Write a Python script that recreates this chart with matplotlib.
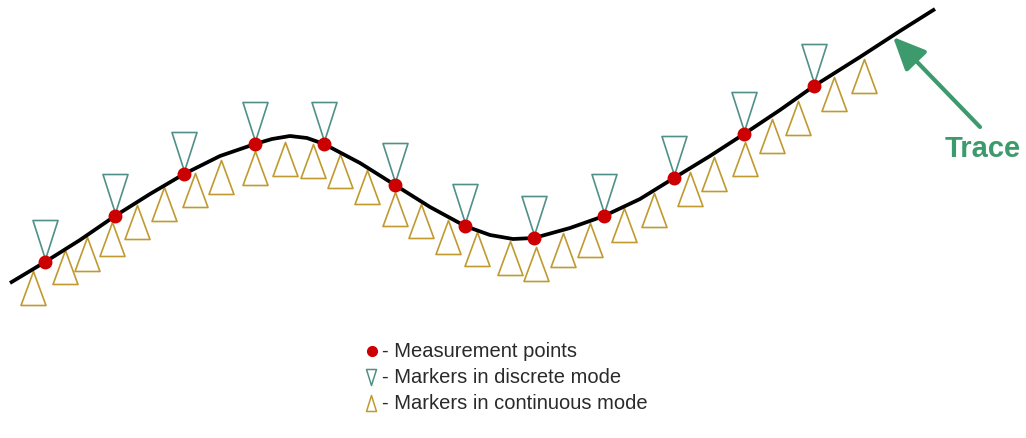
import matplotlib.pyplot as plt
from matplotlib.path import Path


# =========================
# 1. Data (pixel units, y grows downward)
# =========================
trace_x = [10, 45, 80, 115, 150, 184, 220, 255, 272, 290, 307, 324, 360, 395, 430,
           465, 490, 513, 534, 570, 604, 640, 674, 710, 744, 780, 814, 860, 900, 935]
trace_y = [284, 263, 241, 217, 195, 175, 157, 145, 140, 137, 139, 145, 164, 186, 208,
           227, 236, 240, 239, 229, 217, 200, 179, 157, 135, 111, 87, 58, 32, 10]

# measurement points (red dots) - discrete markers sit on the same points
meas_x = [45, 115, 184, 255, 324, 395, 465, 534, 604, 674, 744, 814]
meas_y = [263, 217, 175, 145, 145, 186, 227, 239, 217, 179, 135, 87]

# continuous mode markers (apex position)
cont_x = [33, 65, 87, 112, 137, 164, 195, 221, 255, 285, 313, 340, 367, 395, 421,
          448, 477, 510, 536, 563, 590, 624, 654, 690, 714, 745, 772, 798, 834, 864]
cont_y = [272, 251, 238, 223, 206, 188, 174, 161, 152, 143, 145, 155, 171, 193, 205,
          221, 233, 242, 248, 234, 224, 209, 194, 173, 158, 143, 120, 102, 78, 60]

legend_labels = ["- Measurement points",
                 "- Markers in discrete mode",
                 "- Markers in continuous mode"]

DPI = 100
RED = "#cc0000"
TEAL = "#4f9088"
GOLD = "#c09a30"
GREEN = "#3d9a6c"


def tri_marker(verts):
    # custom marker, 1 unit = 1 pixel; returns marker and markersize
    path = Path(verts + [verts[0]],
                [Path.MOVETO, Path.LINETO, Path.LINETO, Path.CLOSEPOLY])
    ext = max(max(abs(a), abs(b)) for a, b in verts)
    return path, 2 * ext * 72 / DPI


cont_mk, cont_ms = tri_marker([(0, 0), (-12.5, -34), (12.5, -34)])
disc_mk, disc_ms = tri_marker([(0, 3), (-12.5, 42), (12.5, 42)])
small_disc, small_disc_ms = tri_marker([(0, -8), (-5, 8), (5, 8)])
small_cont, small_cont_ms = tri_marker([(0, 8), (-5, -8), (5, -8)])


# =========================
# 2. Figure
# =========================
fig = plt.figure(figsize=(10.26, 4.39), dpi=DPI)
ax = fig.add_axes([0, 0, 1, 1])
ax.set_xlim(0, 1026)
ax.set_ylim(439, 0)
ax.axis("off")

ax.plot(cont_x, cont_y, ls="none", marker=cont_mk, ms=cont_ms,
        mfc="none", mec=GOLD, mew=1.2, zorder=2)
ax.plot(meas_x, meas_y, ls="none", marker=disc_mk, ms=disc_ms,
        mfc="none", mec=TEAL, mew=1.2, zorder=2)
ax.plot(trace_x, trace_y, color="black", lw=2.7, solid_capstyle="butt",
        solid_joinstyle="round", zorder=3)
ax.plot(meas_x, meas_y, ls="none", marker="o", ms=9, color=RED, zorder=4)


# =========================
# 3. Trace label + arrow
# =========================
ax.annotate("", xy=(893, 38), xytext=(980, 128),
            arrowprops=dict(arrowstyle="-|>,head_length=1.0,head_width=0.45",
                            color=GREEN, lw=3, mutation_scale=20,
                            shrinkA=0, shrinkB=0))
ax.text(983, 149, "Trace", ha="center", va="center", fontsize=21,
        fontweight="bold", family=["Liberation Sans", "DejaVu Sans"],
        color=GREEN)


# =========================
# 4. Legend
# =========================
leg_y = [352, 378, 404]
ax.plot([372], [leg_y[0]], ls="none", marker="o", ms=7, color=RED)
ax.plot([371], [leg_y[1]], ls="none", marker=small_disc, ms=small_disc_ms,
        mfc="none", mec=TEAL, mew=1.1)
ax.plot([371], [leg_y[2]], ls="none", marker=small_cont, ms=small_cont_ms,
        mfc="none", mec=GOLD, mew=1.1)
for y, label in zip(leg_y, legend_labels):
    ax.text(382, y, label, ha="left", va="center", fontsize=14.5,
            family=["Liberation Sans", "DejaVu Sans"], color="#2a2a2a")

fig.savefig("out.png", dpi=DPI)
plt.close(fig)
